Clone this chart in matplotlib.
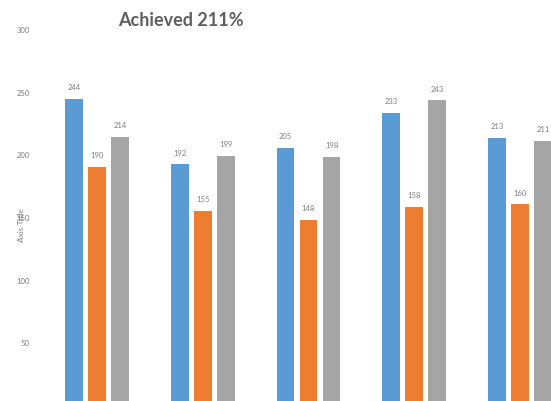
import numpy as np
import matplotlib
matplotlib.use("Agg")
import matplotlib.pyplot as plt

# values per group, one list per series
groups = ["1", "2", "3", "4", "5"]
series_a = [244, 192, 205, 233, 213]
series_b = [190, 155, 148, 158, 160]
series_c = [214, 199, 198, 243, 211]
y_ticks = [0, 50, 100, 150, 200, 250, 300]

colors = ["#5B9BD5", "#ED7D31", "#A5A5A5"]
label_color = "#7f7f7f"

W, H = 551, 402
fig = plt.figure(figsize=(W / 100, H / 100), dpi=100)

# plot area in pixels (top-left origin); the bottom runs slightly off the figure
left_px, right_px = 45, 551
top_px, bottom_px = 30, 406
ax = fig.add_axes([left_px / W, (H - bottom_px) / H,
                   (right_px - left_px) / W, (bottom_px - top_px) / H])

x = np.arange(len(groups))
step = 105.75  # pixels between group centres
ax.set_xlim(-(97 - left_px) / step, 4 + (right_px - 520) / step)
ax.set_ylim(0, 300)

width = 0.17
offset = 0.2175
for i, (vals, col) in enumerate(zip([series_a, series_b, series_c], colors)):
    pos = x + (i - 1) * offset
    bars = ax.bar(pos, vals, width=width, color=col, zorder=2)
    for b, v in zip(bars, vals):
        ax.text(b.get_x() + b.get_width() / 2, v + 7, str(v),
                ha="center", va="bottom", fontsize=5.5, color=label_color,
                family="Lato")

ax.set_yticks(y_ticks)
ax.set_yticklabels([str(t) for t in y_ticks], fontsize=5.5, color=label_color,
                   family="Lato")
ax.tick_params(axis="y", length=0, pad=11)
ax.tick_params(axis="x", length=0, labelbottom=False)
for s in ax.spines.values():
    s.set_visible(False)

fig.text(22 / W, 1 - 225 / H, "Axis Title", rotation=90, ha="center",
         va="center", fontsize=6, color=label_color, family="Lato")
fig.text(181 / W, 1 - 20 / H, "Achieved 211%", ha="center", va="center",
         fontsize=13, fontweight="bold", color="#5f5f5f", family="Lato")

fig.savefig("out.png", dpi=100)
